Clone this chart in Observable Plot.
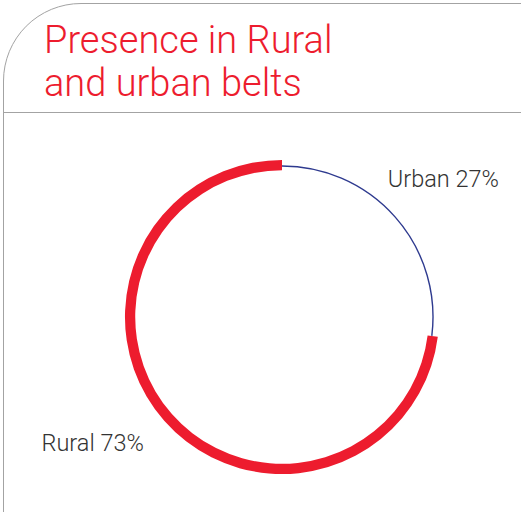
<!DOCTYPE html>
<html>
<head>
<meta charset="utf-8">
<script src="https://cdn.jsdelivr.net/npm/d3@7"></script>
<script src="https://cdn.jsdelivr.net/npm/@observablehq/plot@0.6"></script>
<style>
  html, body { margin: 0; padding: 0; background: #fff; }
  #wrap { position: relative; width: 521px; height: 512px; overflow: hidden; font-family: Roboto, "Liberation Sans", sans-serif; }
  #card { position: absolute; left: 3px; top: 3px; width: 700px; height: 700px; border: 1.5px solid #a3a3a3; border-top-left-radius: 78px; box-sizing: border-box; }
  #rule { position: absolute; left: 4px; top: 112px; width: 530px; height: 0; border-top: 1.5px solid #a3a3a3; }
  #title { position: absolute; left: 44px; top: 19px; font-size: 38px; line-height: 43px; font-weight: 300; color: #ed1c2e; white-space: nowrap; }
  #chart { position: absolute; left: 0; top: 0; }
</style>
</head>
<body>
<div id="wrap">
  <div id="card"></div>
  <div id="rule"></div>
  <div id="title">Presence in Rural<br>and urban belts</div>
  <div id="chart"></div>
</div>
<script>
const categories = ["Urban", "Rural"];
const shares = [27, 73];
const labels = ["Urban 27%", "Rural 73%"];
const colors = ["#2e3a8f", "#ed1c2e"];

const pie = d3.pie().sort(null).startAngle(0).endAngle(2 * Math.PI)(shares);
const labelR = 1.42;
const labelData = pie.map((p, i) => {
  const a = (p.startAngle + p.endAngle) / 2;
  return { label: labels[i], x: labelR * Math.sin(a), y: labelR * Math.cos(a) };
});

function ringMark(index, scales) {
  const cx = scales.x(0), cy = scales.y(0);
  const r = scales.x(1) - scales.x(0);
  const g = d3.create("svg:g");
  // urban thin arc
  const pu = pie[0];
  const path = d3.path();
  path.arc(cx, cy, r, pu.startAngle - Math.PI / 2, pu.endAngle - Math.PI / 2);
  g.append("path").attr("d", path.toString()).attr("fill", "none")
    .attr("stroke", colors[0]).attr("stroke-width", 1.4);
  // rural thick arc
  const pr = pie[1];
  const arc = d3.arc().innerRadius(r * 0.972).outerRadius(r * 1.04);
  g.append("path").attr("d", arc(pr)).attr("transform", `translate(${cx},${cy})`)
    .attr("fill", colors[1]);
  return g.node();
}

const textStyle = { fontSize: 23.5, fill: "#333", fontFamily: "Roboto, 'Liberation Sans', sans-serif", fontWeight: 300 };

const chart = Plot.plot({
  width: 521,
  height: 512,
  margin: 0,
  x: { domain: [-1, 1], range: [131, 433], axis: null },
  y: { domain: [-1, 1], range: [468, 166], axis: null },
  style: { background: "transparent", overflow: "visible" },
  marks: [
    ringMark,
    Plot.text([labelData[0]], { x: "x", y: "y", text: "label", textAnchor: "middle", lineAnchor: "middle", dx: 0, dy: 4, ...textStyle }),
    Plot.text([labelData[1]], { x: "x", y: "y", text: "label", textAnchor: "middle", lineAnchor: "middle", dx: -29, dy: -16, ...textStyle })
  ]
});
document.getElementById("chart").appendChild(chart);
</script>
</body>
</html>
